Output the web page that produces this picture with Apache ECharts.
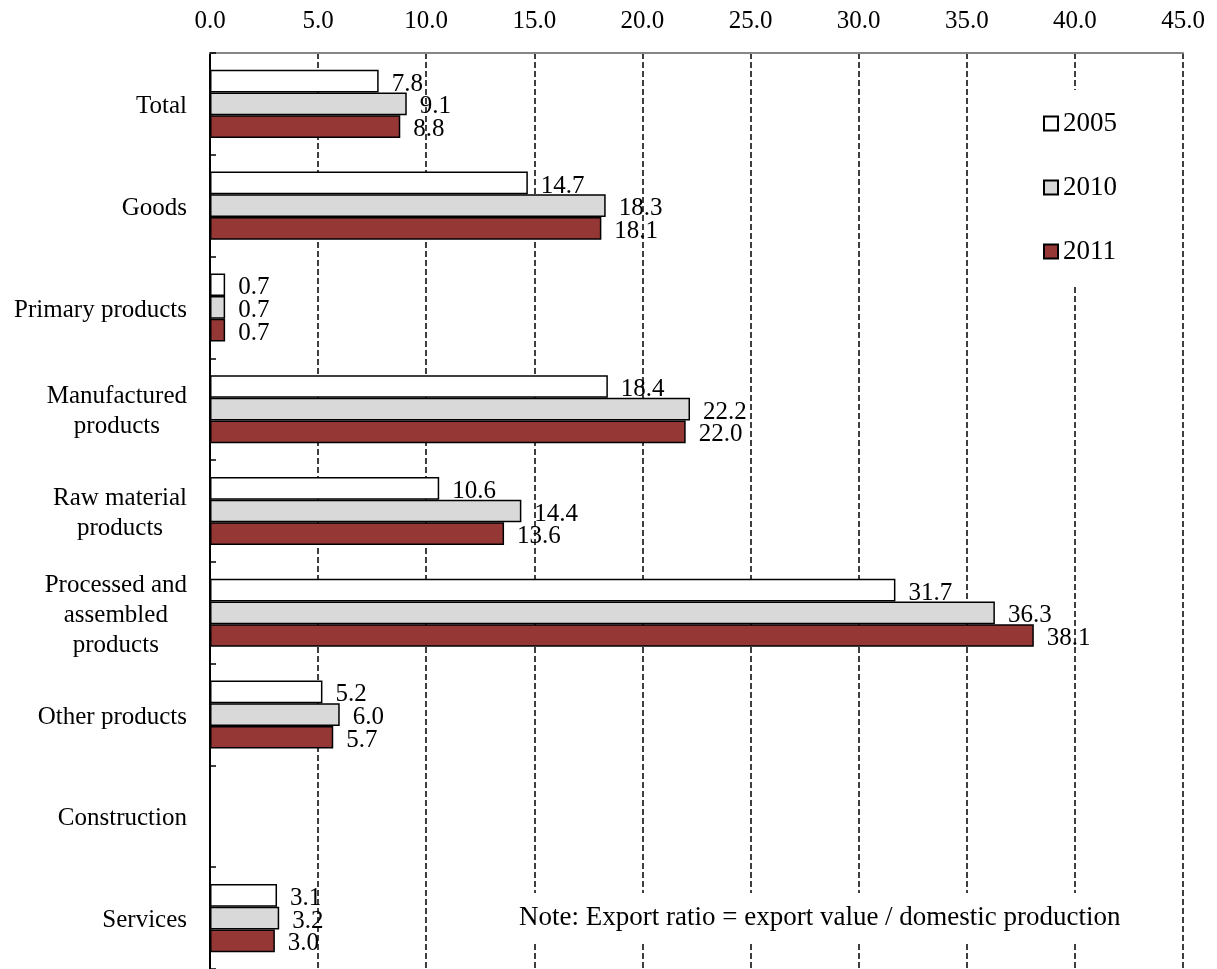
<!DOCTYPE html>
<html>
<head>
<meta charset="utf-8">
<script src="https://cdn.jsdelivr.net/npm/echarts@6/dist/echarts.min.js"></script>
<style>
  html, body { margin: 0; padding: 0; background: #fff; }
  #chart { width: 1217px; height: 969px; }
</style>
</head>
<body>
<div id="chart"></div>
<script>
// Export ratio by product group (%)
const categories = [
  'Total',
  'Goods',
  'Primary products',
  'Manufactured\nproducts',
  'Raw material\nproducts',
  'Processed and\nassembled\nproducts',
  'Other products',
  'Construction',
  'Services'
];
const years = ['2005', '2010', '2011'];
const values2005 = [7.8, 14.7, 0.7, 18.4, 10.6, 31.7, 5.2, '-', 3.1];
const values2010 = [9.1, 18.3, 0.7, 22.2, 14.4, 36.3, 6.0, '-', 3.2];
const values2011 = [8.8, 18.1, 0.7, 22.0, 13.6, 38.1, 5.7, '-', 3.0];
const xTicks = [0, 5, 10, 15, 20, 25, 30, 35, 40, 45];
const noteText = 'Note: Export ratio = export value / domestic production';

const FONT = "'Liberation Serif', 'Times New Roman', serif";
const fills = ['#ffffff', '#d9d9d9', '#953735'];
const seriesValues = [values2005, values2010, values2011];

const chart = echarts.init(document.getElementById('chart'), null, { renderer: 'canvas' });

const series = years.map((y, i) => ({
  name: y,
  type: 'bar',
  data: seriesValues[i],
  barWidth: 22.7,
  barGap: '0%',
  itemStyle: { color: fills[i], borderColor: '#000', borderWidth: 1.5 },
  label: {
    show: true,
    position: 'right',
    distance: 13,
    offset: [0, 3],
    fontFamily: FONT,
    fontSize: 25,
    color: '#000',
    formatter: p => Number(p.value).toFixed(1)
  },
  emphasis: { disabled: true },
  animation: false
}));

chart.setOption({
  backgroundColor: '#fff',
  animation: false,
  grid: { left: 210, right: 34, top: 53, height: 917, containLabel: false },
  xAxis: {
    type: 'value',
    position: 'top',
    min: xTicks[0],
    max: xTicks[xTicks.length - 1],
    interval: 5,
    axisLine: { show: true, lineStyle: { color: '#868686', width: 2 } },
    axisTick: { show: false },
    axisLabel: {
      margin: 19,
      fontFamily: FONT,
      fontSize: 25,
      color: '#000',
      formatter: v => v.toFixed(1)
    },
    splitLine: { show: true, lineStyle: { color: '#000', width: 1.5, type: [6, 3] } }
  },
  yAxis: {
    type: 'category',
    data: categories,
    inverse: true,
    axisLine: { show: true, lineStyle: { color: '#000', width: 2 } },
    axisTick: { show: true, inside: true, length: 6, lineStyle: { color: '#000', width: 1.5 } },
    axisLabel: {
      margin: 23,
      align: 'right',
      color: '#000',
      fontFamily: FONT,
      fontSize: 25,
      lineHeight: 30,
      padding: [5, 0, 0, 0],
      formatter: v => v.split('\n').map(s => '{c|' + s + '}').join('\n'),
      rich: {
        c: { align: 'center', fontFamily: FONT, fontSize: 25, lineHeight: 30, color: '#000' }
      }
    },
    splitLine: { show: false }
  },
  legend: {
    orient: 'vertical',
    left: 1028,
    top: 90,
    padding: [20, 15, 20, 15],
    backgroundColor: '#fff',
    icon: 'rect',
    itemWidth: 14,
    itemHeight: 14,
    itemGap: 37,
    data: years,
    textStyle: { fontFamily: FONT, fontSize: 27, color: '#000', padding: [4, 0, 0, 0] },
    selectedMode: false
  },
  graphic: [{
    type: 'text',
    left: 515,
    top: 893,
    z: 100,
    style: {
      text: noteText,
      fontFamily: FONT,
      fontSize: 27,
      fill: '#000',
      backgroundColor: '#fff',
      padding: [11, 4, 11, 4]
    }
  }],
  series: series
});
</script>
</body>
</html>
